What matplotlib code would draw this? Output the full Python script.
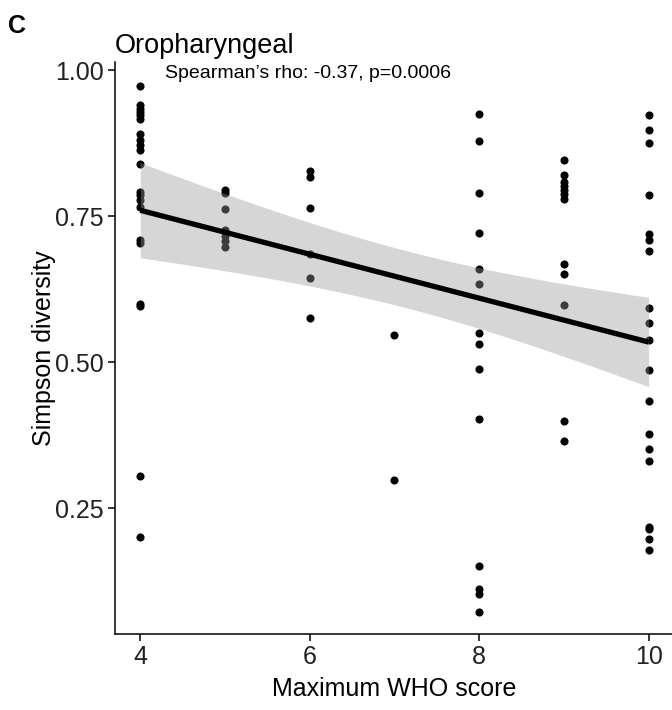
import numpy as np
import matplotlib
matplotlib.use("Agg")
import matplotlib.pyplot as plt

plt.rcParams['font.family'] = ['Liberation Sans', 'DejaVu Sans']

# maximum WHO score per sample and its Simpson diversity
who_4 = [0.973, 0.940, 0.934, 0.929, 0.923, 0.917, 0.891, 0.880, 0.872, 0.864,
         0.840, 0.792, 0.786, 0.778, 0.766, 0.710, 0.705, 0.600, 0.597, 0.306, 0.201]
who_5 = [0.795, 0.790, 0.762, 0.726, 0.716, 0.707, 0.697]
who_6 = [0.827, 0.817, 0.765, 0.685, 0.645, 0.576]
who_7 = [0.547, 0.299]
who_8 = [0.925, 0.879, 0.790, 0.722, 0.660, 0.634, 0.551, 0.531, 0.488, 0.403,
         0.151, 0.112, 0.104, 0.073]
who_9 = [0.846, 0.821, 0.809, 0.802, 0.795, 0.789, 0.779, 0.668, 0.652, 0.598,
         0.400, 0.365]
who_10 = [0.923, 0.897, 0.875, 0.786, 0.720, 0.709, 0.691, 0.593, 0.567, 0.538,
          0.487, 0.434, 0.378, 0.352, 0.332, 0.219, 0.214, 0.198, 0.178]

groups = {4: who_4, 5: who_5, 6: who_6, 7: who_7, 8: who_8, 9: who_9, 10: who_10}
x = np.concatenate([[k] * len(v) for k, v in groups.items()]).astype(float)
y = np.concatenate([v for v in groups.values()])

# linear fit with 95% confidence band (like geom_smooth(method="lm"))
n = len(x)
b, a = np.polyfit(x, y, 1)
resid = y - (a + b * x)
s = np.sqrt(np.sum(resid ** 2) / (n - 2))
xs = np.linspace(x.min(), x.max(), 100)
se = s * np.sqrt(1 / n + (xs - x.mean()) ** 2 / np.sum((x - x.mean()) ** 2))
t = 1.98
fit = a + b * xs

fig = plt.figure(figsize=(6.72, 7.10), dpi=100)
ax = fig.add_axes([0.171, 0.107, 0.832, 0.806])

ax.scatter(x, y, s=34, color="black", linewidths=0, zorder=1)
ax.fill_between(xs, fit - t * se, fit + t * se, color="#999999", alpha=0.4,
                linewidth=0, zorder=2)
ax.plot(xs, fit, color="black", lw=3.8, zorder=3, solid_capstyle="butt")

ax.set_xlim(3.7, 10.3)
ax.set_ylim(0.035, 1.0145)
ax.set_xticks([4, 6, 8, 10])
ax.set_yticks([0.25, 0.50, 0.75, 1.00])
ax.set_yticklabels(["0.25", "0.50", "0.75", "1.00"])

for side in ["top", "right"]:
    ax.spines[side].set_visible(False)
for side in ["left", "bottom"]:
    ax.spines[side].set_linewidth(1.1)
ax.tick_params(axis="both", direction="out", length=5, width=1.1,
               labelsize=18, colors="black", labelcolor="#222222", pad=3)

ax.set_xlabel("Maximum WHO score", fontsize=18, labelpad=6)
ax.set_ylabel("Simpson diversity", fontsize=18, labelpad=-1)

fig.text(0.012, 0.9535, "C", fontsize=18, fontweight="bold", va="baseline")
fig.text(0.171, 0.925, "Oropharyngeal", fontsize=19.5, va="baseline")
fig.text(0.2455, 0.890, "Spearman\u2019s rho: -0.37, p=0.0006", fontsize=14,
         va="baseline", ha="left")

fig.savefig("out.png", dpi=100)
